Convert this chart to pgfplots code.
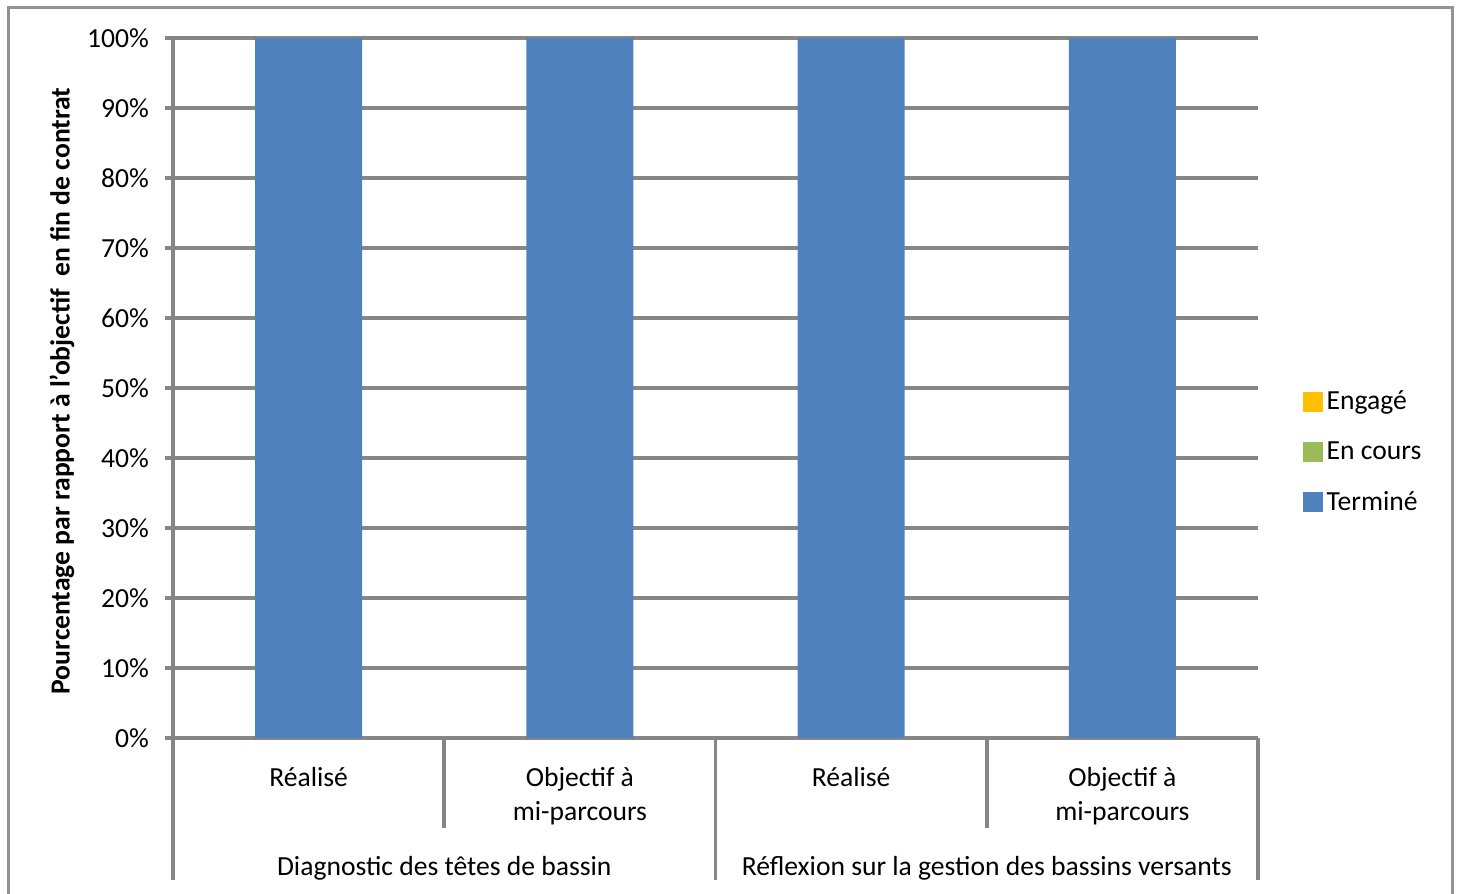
\documentclass[border=0pt]{standalone}
\usepackage{pgfplots}
\pgfplotsset{compat=1.18}
\usepackage{fontspec}
\setmainfont{Carlito}
\definecolor{terml}{HTML}{4F81BD}
\definecolor{encours}{HTML}{9BBB59}
\definecolor{engage}{HTML}{FFC000}
\definecolor{gridgrey}{HTML}{868686}
\newcommand{\ff}{\fontsize{13.8}{17}\selectfont}
\begin{document}
\begin{tikzpicture}
\useasboundingbox (0,0) rectangle (729.5pt,446.5pt);
\clip (0,0) rectangle (729.5pt,446.5pt);
\draw[gridgrey!90, line width=1.5pt] (4pt,-10pt) -- (4pt,442.5pt) -- (726pt,442.5pt) -- (726pt,-10pt);
\begin{axis}[
  at={(86.5pt,77.5pt)}, anchor=south west,
  scale only axis, width=542.5pt, height=350pt,
  ybar stacked, bar width=53.5pt,
  xmin=-0.5, xmax=3.5, ymin=0, ymax=100,
  clip=false,
  xtick={0,1,2,3},
  xticklabels={Réalisé, Objectif à\\mi-parcours, Réalisé, Objectif à\\mi-parcours},
  xticklabel style={align=center, font=\ff, yshift=-7pt},
  x tick style={draw=none},
  ytick={0,10,...,100},
  yticklabel={\pgfmathprintnumber{\tick}\%},
  yticklabel style={font=\ff, xshift=-4.5pt},
  /pgf/number format/assume math mode=true,
  ymajorgrids, grid style={gridgrey, line width=1.8pt},
  axis x line*=bottom, axis y line*=left,
  axis line style={gridgrey, line width=1.8pt, -},
  y tick style={gridgrey, line width=1.8pt},
  tick align=outside, major tick length=4pt,
  ylabel={Pourcentage par rapport à l'objectif\ \ en fin de contrat},
  every axis y label/.style={at={(axis description cs:-0.1023,0.4957)}, rotate=90, anchor=center, font=\fontsize{13.8}{15}\selectfont\bfseries},
  legend style={at={(1.0353,0.4086)}, anchor=west, draw=none, fill=none, font=\ff, row sep=10.5pt,
    nodes={inner xsep=1pt},
    /tikz/every odd column/.append style={column sep=1pt}},
  legend cell align=left,
  reverse legend,
  legend image code/.code={\fill[#1] (0pt,-5pt) rectangle (10pt,5pt);},
]
\addplot[fill=terml, draw=none] coordinates {(0,100) (1,100) (2,100) (3,100)};
\addlegendentry{Terminé}
\addplot[fill=encours, draw=none] coordinates {(0,0) (1,0) (2,0) (3,0)};
\addlegendentry{En cours}
\addplot[fill=engage, draw=none] coordinates {(0,0) (1,0) (2,0) (3,0)};
\addlegendentry{Engagé}
\draw[gridgrey, line width=1.8pt] (axis cs:-0.5,0) -- ([yshift=-71pt]axis cs:-0.5,0);
\draw[gridgrey, line width=1.8pt] (axis cs:1.5,0) -- ([yshift=-71pt]axis cs:1.5,0);
\draw[gridgrey, line width=1.8pt] (axis cs:3.5,0) -- ([yshift=-71pt]axis cs:3.5,0);
\draw[gridgrey, line width=1.8pt] (axis cs:0.5,0) -- ([yshift=-45pt]axis cs:0.5,0);
\draw[gridgrey, line width=1.8pt] (axis cs:2.5,0) -- ([yshift=-45pt]axis cs:2.5,0);
\node[font=\ff] at ([yshift=-65pt]axis cs:0.5,0) {Diagnostic des têtes de bassin};
\node[font=\ff] at ([yshift=-65pt]axis cs:2.5,0) {Réflexion sur la gestion des bassins versants};
\end{axis}
\end{tikzpicture}
\end{document}
